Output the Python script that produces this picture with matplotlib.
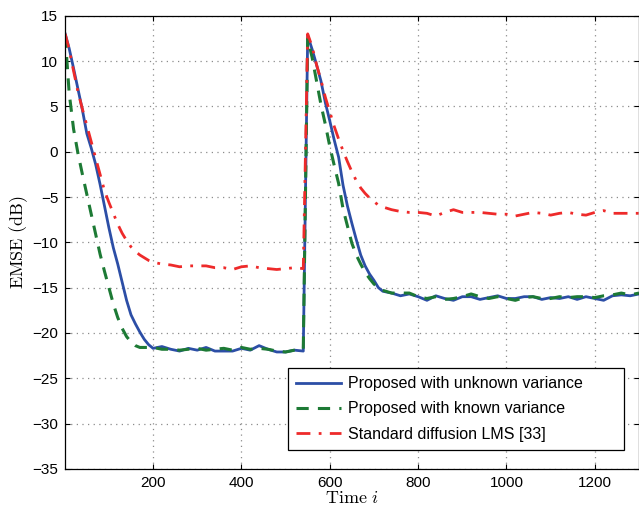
#!/usr/bin/env python3

# EMSE learning curves: proposed method (unknown / known noise variance)
# versus standard diffusion LMS, with a change of the model at i = 540.

import matplotlib
matplotlib.use("Agg")
import matplotlib.pyplot as plt

plt.rcParams['font.family'] = ['Liberation Sans', 'DejaVu Sans']
plt.rcParams['mathtext.fontset'] = 'cm'

# Iterations (shared grid)
iters = ([1] + list(range(10, 201, 10)) + list(range(220, 541, 20))
         + list(range(550, 721, 10)) + list(range(740, 1301, 20)))

emse_unknown = [
    13.0, 11.4, 9.2, 6.9, 4.6, 2.0, 0.4, -1.4, -3.6, -6.0, -8.4,
    -10.6, -12.4, -14.4, -16.4, -18.0, -19.0, -19.9, -20.7, -21.3, -21.7,
    -21.5, -21.8, -22.0, -21.7, -21.9, -21.6, -22.0, -22.0, -22.0, -21.7,
    -21.9, -21.4, -21.8, -22.1, -22.1, -21.9, -22.0,
    12.8, 11.3, 9.6, 7.8, 5.4, 3.4, 1.3, -0.6, -3.7, -6.0, -7.9,
    -9.7, -11.4, -12.6, -13.5, -14.2, -15.0, -15.4,
    -15.6, -15.9, -15.7, -16.0, -16.4, -15.9, -16.2, -16.4, -16.0, -16.0,
    -16.3, -16.1, -15.9, -16.2, -16.2, -16.0, -16.0, -16.3, -16.1, -16.2,
    -16.0, -16.3, -16.0, -16.2, -16.4, -15.9, -15.8, -15.9, -15.7,
]

emse_known = [
    12.8, 6.5, 2.5, -0.2, -2.5, -4.7, -6.9, -9.1, -11.3, -13.2, -15.0,
    -16.8, -18.3, -19.5, -20.4, -21.0, -21.4, -21.6, -21.6, -21.6, -21.6,
    -21.8, -21.8, -21.9, -21.8, -21.7, -21.9, -21.8, -21.7, -21.9, -21.6,
    -21.8, -21.7, -21.8, -22.0, -22.1, -21.9, -21.8,
    12.5, 10.4, 7.8, 5.2, 3.0, 0.6, -1.5, -3.5, -6.3, -8.2, -10.1,
    -11.4, -12.4, -13.3, -14.0, -14.6, -15.0, -15.3,
    -15.6, -15.6, -15.6, -16.0, -16.2, -16.0, -16.3, -16.2, -16.0, -15.7,
    -16.0, -16.2, -16.0, -16.2, -16.4, -16.1, -16.0, -16.2, -16.2, -16.0,
    -16.1, -16.0, -16.0, -16.1, -15.9, -15.8, -15.6, -15.8, -15.6,
]

emse_dlms = [
    13.0, 11.3, 8.9, 6.6, 4.7, 2.9, 1.1, -0.7, -2.5, -4.3, -5.6,
    -6.8, -8.0, -9.0, -9.8, -10.5, -11.0, -11.4, -11.7, -12.0, -12.2,
    -12.4, -12.5, -12.7, -12.6, -12.6, -12.6, -12.8, -12.8, -13.0, -12.7,
    -12.6, -12.8, -12.9, -13.0, -12.9, -12.8, -12.9,
    13.0, 11.6, 9.6, 7.9, 6.0, 4.4, 2.8, 1.4, 0.1, -1.1, -2.2,
    -3.2, -4.0, -4.6, -5.1, -5.5, -5.9, -6.1,
    -6.4, -6.6, -6.7, -6.7, -6.8, -7.1, -6.7, -6.4, -6.7, -6.7,
    -6.7, -6.8, -6.9, -6.9, -7.1, -6.9, -6.7, -6.8, -7.0, -6.8,
    -6.7, -6.9, -7.0, -6.7, -6.5, -6.8, -6.8, -6.8, -6.8,
]

labels = ["Proposed with unknown variance",
          "Proposed with known variance",
          "Standard diffusion LMS [33]"]

fig = plt.figure(figsize=(6.39, 5.08), dpi=100)
ax = fig.add_axes([0.102, 0.077, 0.898, 0.892])

ax.plot(iters, emse_unknown, '-', color='#2c4ea6', lw=2.0, label=labels[0])
ax.plot(iters, emse_known, '--', color='#1d7a35', lw=2.2,
        dashes=(4, 3), label=labels[1])
ax.plot(iters, emse_dlms, '-.', color='#ee2a2a', lw=2.0,
        dashes=(5, 3, 1, 3), label=labels[2])

ax.set_xlim(1, 1300)
ax.set_ylim(-35, 15)
ax.set_xticks(range(200, 1201, 200))
ax.set_yticks(range(-35, 16, 5))
ax.grid(True, linestyle=(0, (1, 3.5)), color='#8c8c8c', linewidth=0.9)
ax.tick_params(direction='in', top=True, right=True, labelsize=11, pad=5)
for s in ax.spines.values():
    s.set_linewidth(0.9)

ax.set_xlabel(r'$\mathrm{Time}\ i$', fontsize=13, labelpad=0)
ax.set_ylabel(r'$\mathrm{EMSE\ (dB)}$', fontsize=13, labelpad=2)

# legend box stretched like the MATLAB one
leg = ax.legend(loc='lower left', bbox_to_anchor=(0.3885, 0.042, 0.585, 0.18),
                mode='expand', borderaxespad=0, fontsize=11.5,
                handlelength=2.8, handletextpad=0.45, labelspacing=0.65,
                borderpad=0.5, fancybox=False, framealpha=1,
                edgecolor='black')
leg.get_frame().set_linewidth(0.9)

fig.savefig("out.png", dpi=100)
